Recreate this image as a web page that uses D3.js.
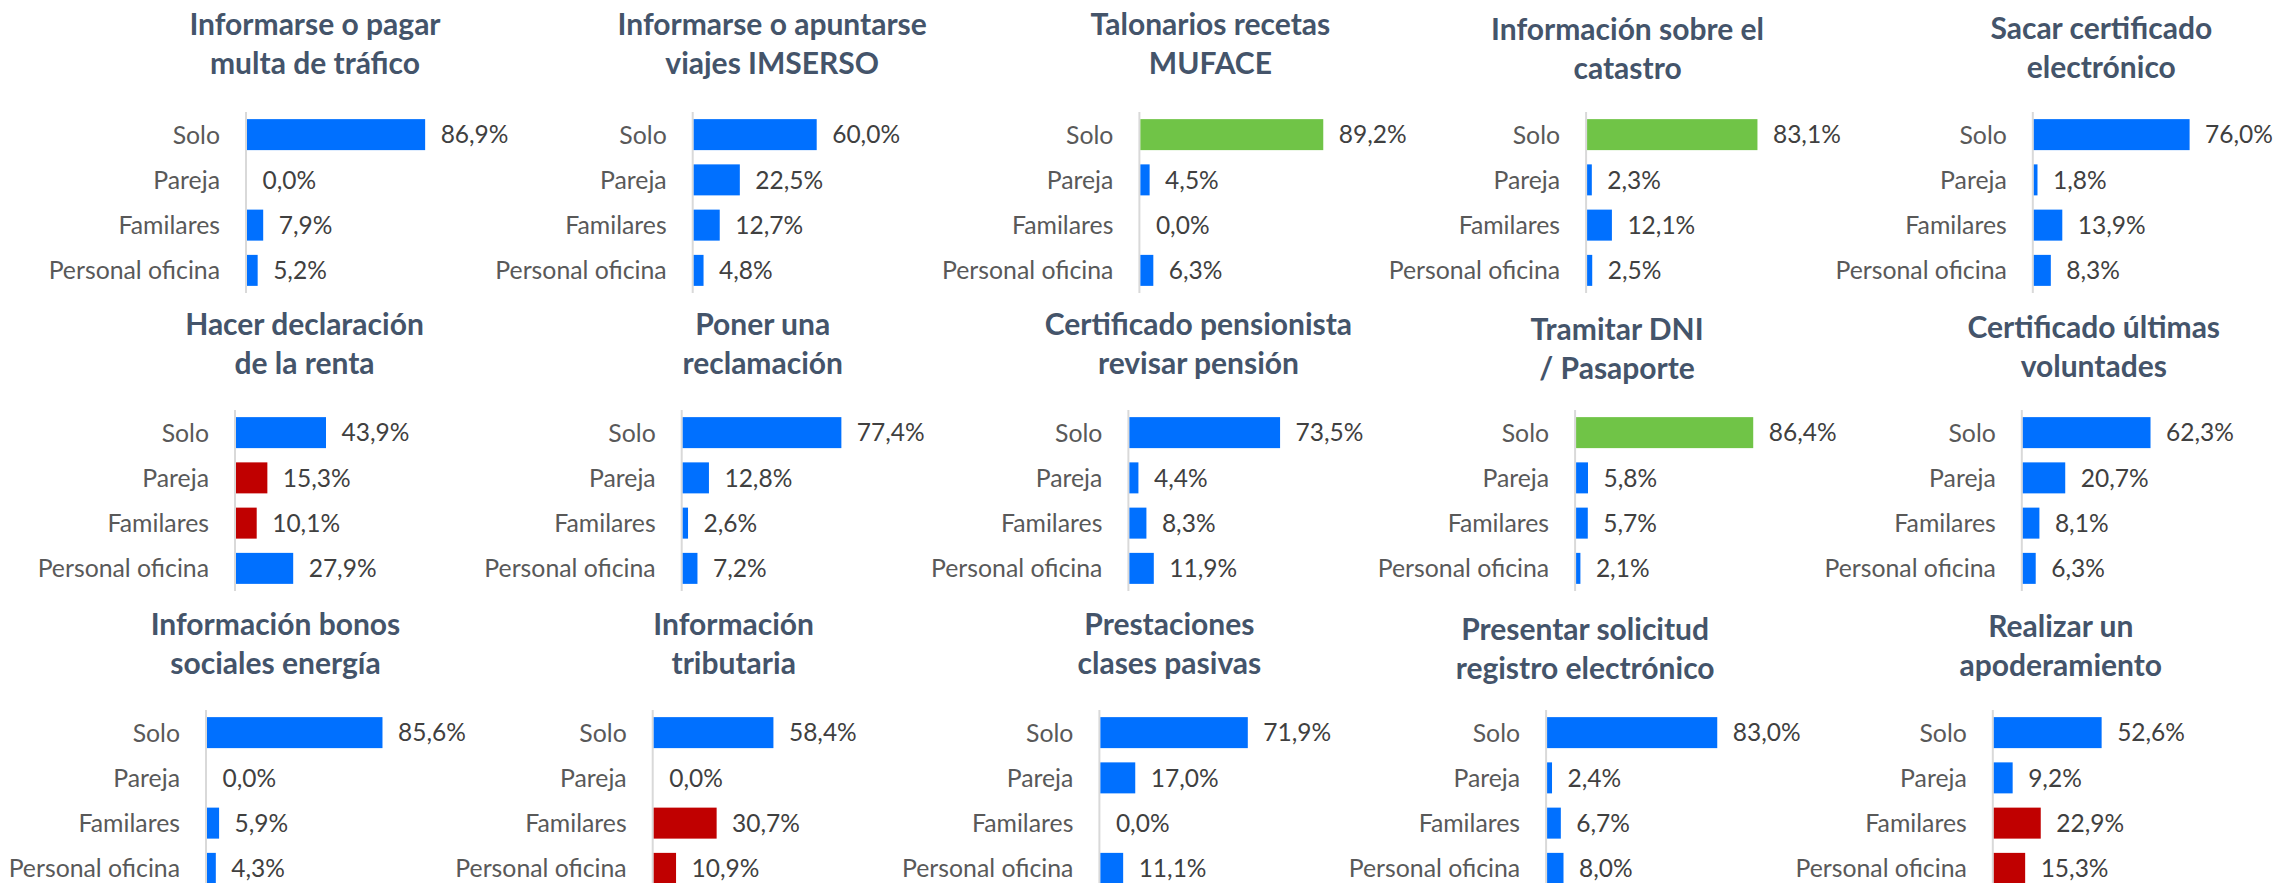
<!DOCTYPE html>
<html>
<head>
<meta charset="utf-8">
<script src="https://cdn.jsdelivr.net/npm/d3@7"></script>
<style>
  html, body { margin: 0; padding: 0; background: #ffffff; }
  svg { display: block; }
</style>
</head>
<body>
<svg id="chart" width="2274" height="883"></svg>
<script>
// Categories shared by every small chart
const categories = ["Solo", "Pareja", "Familares", "Personal oficina"];

// Panel titles (two lines each), read row by row
const titles = [
  ["Informarse o pagar", "multa de tráfico"],
  ["Informarse o apuntarse", "viajes IMSERSO"],
  ["Talonarios recetas", "MUFACE"],
  ["Información sobre el", "catastro"],
  ["Sacar certificado", "electrónico"],
  ["Hacer declaración", "de la renta"],
  ["Poner una", "reclamación"],
  ["Certificado pensionista", "revisar pensión"],
  ["Tramitar DNI", "/ Pasaporte"],
  ["Certificado últimas", "voluntades"],
  ["Información bonos", "sociales energía"],
  ["Información", "tributaria"],
  ["Prestaciones", "clases pasivas"],
  ["Presentar solicitud", "registro electrónico"],
  ["Realizar un", "apoderamiento"]
];

// Percentages per panel, in category order
const values = [
  [86.9, 0.0, 7.9, 5.2],
  [60.0, 22.5, 12.7, 4.8],
  [89.2, 4.5, 0.0, 6.3],
  [83.1, 2.3, 12.1, 2.5],
  [76.0, 1.8, 13.9, 8.3],
  [43.9, 15.3, 10.1, 27.9],
  [77.4, 12.8, 2.6, 7.2],
  [73.5, 4.4, 8.3, 11.9],
  [86.4, 5.8, 5.7, 2.1],
  [62.3, 20.7, 8.1, 6.3],
  [85.6, 0.0, 5.9, 4.3],
  [58.4, 0.0, 30.7, 10.9],
  [71.9, 17.0, 0.0, 11.1],
  [83.0, 2.4, 6.7, 8.0],
  [52.6, 9.2, 22.9, 15.3]
];

// Highlight of each bar: b = normal, g = high self-service, r = assisted
const tones = [
  ["b", "b", "b", "b"],
  ["b", "b", "b", "b"],
  ["g", "b", "b", "b"],
  ["g", "b", "b", "b"],
  ["b", "b", "b", "b"],
  ["b", "r", "r", "b"],
  ["b", "b", "b", "b"],
  ["b", "b", "b", "b"],
  ["g", "b", "b", "b"],
  ["b", "b", "b", "b"],
  ["b", "b", "b", "b"],
  ["b", "b", "r", "r"],
  ["b", "b", "b", "b"],
  ["b", "b", "b", "b"],
  ["b", "b", "r", "r"]
];

const toneColor = { b: "#0070FF", g: "#70C447", r: "#C00000" };

// Layout of the 5 x 3 grid
const rowAxisX = [247, 236, 207];      // value axis position of first column
const colStep = 446.7;
const rowPlotTop = [112, 410, 710];
const rowTitleBase = [35, 335, 635];
const plotH = 181;
const titleDx = [
  [68, 78.5, 70, 40.5, 67.5],
  [68.5, 80, 69, 41, 71],
  [68.5, 80, 69, 38, 67]
];
const titleDy = [
  [0, 0, 0, 5, 4],
  [0, 0, 0, 5, 3],
  [0, 0, 0, 4.5, 1.5]
];

const svg = d3.select("#chart");
svg.append("rect").attr("width", 2274).attr("height", 883).attr("fill", "#ffffff");

const x = d3.scaleLinear().domain([0, 100]).range([0, 205]);
const y = d3.scaleBand().domain(categories).range([0, plotH])
  .paddingInner(0.315).paddingOuter(0.1575);

const FONT = "Lato, 'Open Sans', sans-serif";

titles.forEach((t, i) => {
  const row = Math.floor(i / 5), col = i % 5;
  const ax = rowAxisX[row] + col * colStep;
  const top = rowPlotTop[row];

  const g = svg.append("g");

  // title
  const tt = g.append("text")
    .attr("x", ax + titleDx[row][col])
    .attr("y", rowTitleBase[row] + titleDy[row][col])
    .attr("text-anchor", "middle")
    .attr("font-family", FONT)
    .attr("font-weight", 700)
    .attr("font-size", 30)
    .attr("fill", "#44546A");
  t.forEach((line, k) => {
    tt.append("tspan").attr("x", ax + titleDx[row][col]).attr("dy", k === 0 ? 0 : 39).text(line);
  });

  const plot = g.append("g").attr("transform", `translate(${ax},${top})`);

  // category axis with labels, no ticks
  const yAxis = d3.axisLeft(y).tickSize(0).tickPadding(27);
  const axG = plot.append("g").call(yAxis);
  axG.select(".domain").attr("stroke", "#D9D9D9").attr("stroke-width", 2)
    .attr("d", `M-1,0V${plotH}`);
  axG.selectAll(".tick text")
    .attr("font-family", FONT)
    .attr("font-size", 24.8)
    .attr("fill", "#595959")
    .attr("dy", "0.36em");

  const data = categories.map((c, k) => ({ c, v: values[i][k], tone: tones[i][k] }));

  plot.selectAll("rect.bar").data(data).enter().append("rect")
    .attr("class", "bar")
    .attr("x", x(0))
    .attr("y", d => y(d.c))
    .attr("width", d => x(d.v))
    .attr("height", y.bandwidth())
    .attr("fill", d => toneColor[d.tone]);

  plot.selectAll("text.val").data(data).enter().append("text")
    .attr("class", "val")
    .attr("x", d => x(d.v) + 15.5)
    .attr("y", d => y(d.c) + y.bandwidth() / 2)
    .attr("dy", "0.36em")
    .attr("font-family", FONT)
    .attr("font-size", 24.5)
    .attr("fill", "#404040")
    .text(d => d.v.toFixed(1).replace(".", ",") + "%");
});
</script>
</body>
</html>
